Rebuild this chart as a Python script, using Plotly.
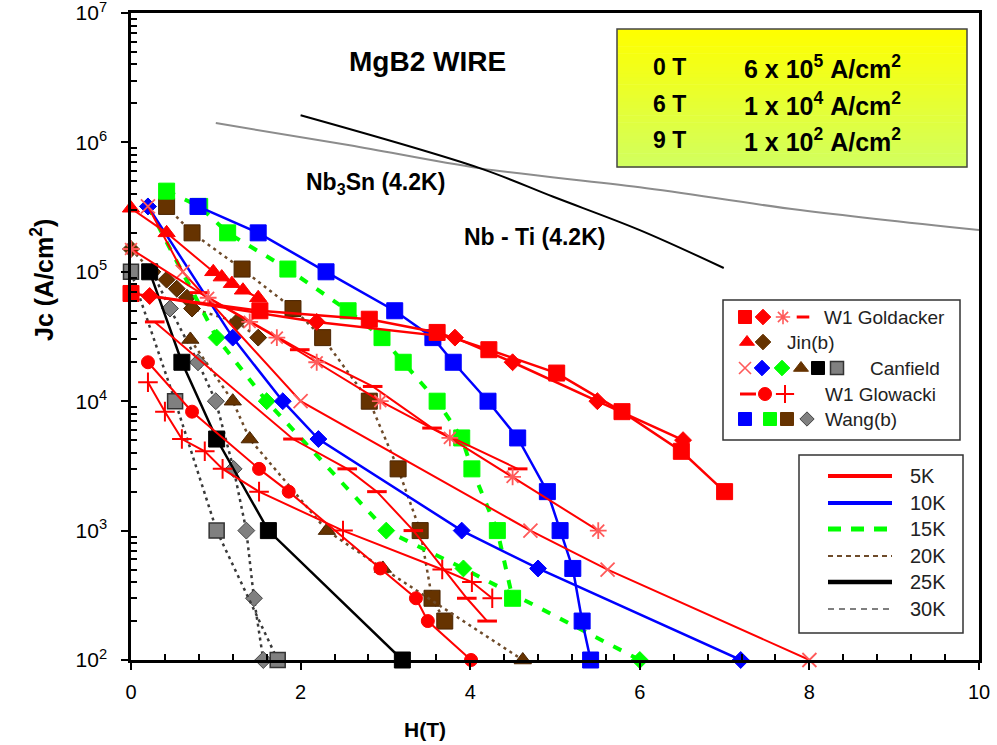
import plotly.graph_objects as go

# ---------------- data: applied field H (T) and Jc (A/cm^2) ----------------
# W1 Goldacker
gold_sq_h = [0.0, 1.52, 2.81, 3.61, 4.22, 5.02, 5.79, 6.49, 7.0]
gold_sq_jc = [6.8e4, 5.0e4, 4.3e4, 3.4e4, 2.5e4, 1.65e4, 8.3e3, 4.1e3, 2.0e3]
gold_di_h = [0.22, 2.19, 3.82, 4.50, 5.50, 6.51]
gold_di_jc = [6.5e4, 4.1e4, 3.1e4, 2.0e4, 1.0e4, 5.0e3]
gold_ast_h = [0.0, 0.91, 1.40, 1.72, 2.19, 2.94, 3.76, 4.50, 5.51]
gold_ast_jc = [1.5e5, 6.3e4, 4.1e4, 3.1e4, 2.0e4, 1.0e4, 5.2e3, 2.6e3, 1.0e3]
gold_dash_h = [0.81, 1.99, 2.85, 3.55, 4.56]
gold_dash_jc = [6.9e4, 2.5e4, 1.3e4, 6.2e3, 3.0e3]

# Jin(b)
jin_tri_h = [0.0, 0.42, 0.97, 1.07, 1.19, 1.32, 1.50]
jin_tri_jc = [3.1e5, 2.0e5, 1.0e5, 9.1e4, 8.1e4, 7.2e4, 6.3e4]
jin_di_h = [0.0, 0.25, 0.42, 0.54, 0.66, 0.72, 1.25, 1.50]
jin_di_jc = [1.5e5, 1.0e5, 8.7e4, 7.4e4, 6.3e4, 5.2e4, 4.1e4, 3.1e4]

# Canfield
canf_x_h = [0.20, 0.61, 2.0, 4.71, 5.62, 8.0]
canf_x_jc = [3.2e5, 1.0e5, 1.0e4, 1.0e3, 5.0e2, 1.0e2]
canf_bd_h = [0.20, 1.20, 1.79, 2.21, 3.90, 4.80, 7.19]
canf_bd_jc = [3.2e5, 3.1e4, 1.0e4, 5.1e3, 1.0e3, 5.1e2, 1.0e2]
canf_gd_h = [0.20, 1.01, 1.60, 3.01, 3.92, 6.0]
canf_gd_jc = [3.2e5, 3.1e4, 1.0e4, 1.0e3, 5.1e2, 1.0e2]
canf_bt_h = [0.70, 1.20, 1.40, 2.31, 2.97, 4.62]
canf_bt_jc = [3.0e4, 1.0e4, 5.1e3, 1.0e3, 5.1e2, 1.0e2]
canf_ks_h = [0.22, 0.60, 1.01, 1.62, 3.20]
canf_ks_jc = [1.0e5, 2.0e4, 5.1e3, 1.0e3, 1.0e2]
canf_gs_h = [0.0, 0.52, 1.01, 1.73]
canf_gs_jc = [1.0e5, 1.0e4, 1.0e3, 1.0e2]

# W1 Glowacki
glow_dash_h = [0.28, 1.91, 2.55, 2.90, 3.33, 3.96, 4.20]
glow_dash_jc = [4.1e4, 5.1e3, 3.0e3, 2.0e3, 1.0e3, 3.0e2, 2.0e2]
glow_circ_h = [0.20, 0.72, 1.51, 1.86, 2.94, 3.36, 3.50, 4.01]
glow_circ_jc = [2.0e4, 8.3e3, 3.0e3, 2.0e3, 5.1e2, 3.0e2, 2.0e2, 1.0e2]
glow_plus_h = [0.20, 0.40, 0.60, 0.87, 1.08, 1.51, 2.50, 3.67, 4.02, 4.26]
glow_plus_jc = [1.4e4, 8.3e3, 5.1e3, 4.1e3, 3.0e3, 2.0e3, 1.0e3, 5.0e2, 4.0e2, 3.0e2]

# Wang(b)
wang_bs_h = [0.79, 1.50, 2.30, 3.11, 3.56, 3.80, 4.21, 4.56, 4.91, 5.06, 5.21, 5.32, 5.42]
wang_bs_jc = [3.2e5, 2.0e5, 1.0e5, 5.0e4, 3.1e4, 2.0e4, 1.0e4, 5.2e3, 2.0e3, 1.0e3, 5.1e2, 2.0e2, 1.0e2]
wang_gs_h = [0.42, 0.81, 1.14, 1.85, 2.56, 2.96, 3.21, 3.61, 3.90, 4.02, 4.32, 4.50]
wang_gs_jc = [4.2e5, 3.2e5, 2.0e5, 1.05e5, 5.0e4, 3.1e4, 2.0e4, 1.0e4, 5.2e3, 3.0e3, 1.0e3, 3.0e2]
wang_br_h = [0.42, 0.72, 1.31, 1.91, 2.26, 2.81, 3.15, 3.41, 3.55, 3.70]
wang_br_jc = [3.2e5, 2.0e5, 1.05e5, 5.2e4, 3.1e4, 1.0e4, 3.0e3, 1.0e3, 3.0e2, 2.0e2]
wang_gd_h = [0.25, 0.46, 0.79, 1.0, 1.21, 1.36, 1.45, 1.56]
wang_gd_jc = [1.0e5, 5.2e4, 2.0e4, 1.0e4, 3.0e3, 1.0e3, 3.0e2, 1.0e2]

# conventional conductors at 4.2 K
nb3sn_h = [1.0, 2.58, 4.12, 6.0, 7.89, 10.0]
nb3sn_jc = [1.41e6, 9.5e5, 6.3e5, 4.5e5, 3.0e5, 2.1e5]
nbti_h = [2.0, 4.12, 4.98, 6.0, 6.99]
nbti_jc = [1.62e6, 6.3e5, 3.8e5, 2.1e5, 1.07e5]

# axis tick labels
x_ticks = [0, 2, 4, 6, 8, 10]
y_ticks = [1e2, 1e3, 1e4, 1e5, 1e6, 1e7]
y_ticktext = ["10<sup>2</sup>", "10<sup>3</sup>", "10<sup>4</sup>",
              "10<sup>5</sup>", "10<sup>6</sup>", "10<sup>7</sup>"]

# ---------------- styles ----------------
RED, PINK, BLUE, GREEN = "#ff0000", "#ff5a5a", "#0000ff", "#00ff00"
BROWN, BLACK, GRAY = "#663300", "#000000", "#808080"
FONT = "Liberation Sans"
NB = "&nbsp;"

W, H = 997, 745
ML, MR, MT, MB = 131, 18, 13, 85
PW, PH = W - ML - MR, H - MT - MB


def px(x):
    return (x - ML) / PW


def py(y):
    return (H - MB - y) / PH


fig = go.Figure()


def add_series(h, jc, lcolor, lwidth, dash, symbol, msize, mcolor, mline=None, mlw=1):
    fig.add_trace(go.Scatter(
        x=h, y=jc, mode="lines+markers", cliponaxis=False,
        line=dict(color=lcolor, width=lwidth, dash=dash),
        marker=dict(symbol=symbol, size=msize, color=mcolor,
                    line=dict(color=mline or mcolor, width=mlw)),
        hoverinfo="x+y"))


# reference conductors
fig.add_trace(go.Scatter(x=nb3sn_h, y=nb3sn_jc, mode="lines", line=dict(color="#8c8c8c", width=2, shape="spline"),
                         hoverinfo="x+y"))
fig.add_trace(go.Scatter(x=nbti_h, y=nbti_jc, mode="lines", line=dict(color=BLACK, width=2, shape="spline"),
                         hoverinfo="x+y"))

DOT = "3px,4px"
GDASH = "9px,11px"
SQ, DI, TR, CI, XS = 16, 13, 15, 13, 14
# 30 K
add_series(wang_gd_h, wang_gd_jc, "#3a3a3a", 2.5, DOT, "diamond", DI, GRAY, "#444444", 1)
add_series(canf_gs_h, canf_gs_jc, "#3a3a3a", 2.5, DOT, "square", SQ - 1, GRAY, "#333333", 1.5)
# 20 K
add_series(wang_br_h, wang_br_jc, "#6e4b2a", 2.5, DOT, "square", SQ, BROWN, "#4a2400", 1)
add_series(jin_di_h, jin_di_jc, "#6e4b2a", 2.5, DOT, "diamond", DI, BROWN, "#4a2400", 1)
add_series(canf_bt_h, canf_bt_jc, "#6e4b2a", 2.5, DOT, "triangle-up", TR, BROWN, "#4a2400", 1)
# 15 K
add_series(wang_gs_h, wang_gs_jc, GREEN, 4, GDASH, "square", SQ, GREEN)
add_series(canf_gd_h, canf_gd_jc, GREEN, 4, GDASH, "diamond", DI, GREEN)
# 25 K
add_series(canf_ks_h, canf_ks_jc, BLACK, 2.5, "solid", "square", SQ, BLACK)
# 10 K
add_series(wang_bs_h, wang_bs_jc, BLUE, 2.5, "solid", "square", SQ, BLUE)
add_series(canf_bd_h, canf_bd_jc, BLUE, 2.5, "solid", "diamond", DI, BLUE)
# 5 K
add_series(canf_x_h, canf_x_jc, RED, 2, "solid", "x-thin-open", XS, PINK, PINK, 1.8)
add_series(glow_plus_h, glow_plus_jc, RED, 2, "solid", "cross-thin-open", XS, RED, RED, 2)
add_series(glow_circ_h, glow_circ_jc, RED, 2, "solid", "circle", CI, RED)
add_series(glow_dash_h, glow_dash_jc, RED, 2, "solid", "line-ew-open", XS, RED, RED, 3)
add_series(gold_dash_h, gold_dash_jc, RED, 2, "solid", "line-ew-open", XS, RED, RED, 3)
add_series(gold_ast_h, gold_ast_jc, RED, 2, "solid", "asterisk-open", XS, PINK, PINK, 1.8)
add_series(jin_tri_h, jin_tri_jc, RED, 2, "solid", "triangle-up", TR, RED)
add_series(gold_di_h, gold_di_jc, RED, 2.5, "solid", "diamond", DI, RED)
add_series(gold_sq_h, gold_sq_jc, RED, 2.5, "solid", "square", SQ, RED)

# ---------------- legend glyphs on a pixel-space overlay ----------------
def glyph(x, y, symbol, size, color, lcolor=None, lw=1):
    fig.add_trace(go.Scatter(
        x=[x], y=[y], xaxis="x2", yaxis="y2", mode="markers", cliponaxis=False,
        marker=dict(symbol=symbol, size=size, color=color, line=dict(color=lcolor or color, width=lw)),
        hoverinfo="skip"))


shapes = []
annotations = []

# yellow summary box with vertical gradient
bx0, by0, bx1, by1 = 617, 29, 967, 167
n_strips = 40
for i in range(n_strips):
    t = i / (n_strips - 1)
    r = int(255 - 45 * t)
    b = int(0 + 95 * t)
    ya = by0 + (by1 - by0) * i / n_strips
    yb = by0 + (by1 - by0) * (i + 1) / n_strips
    shapes.append(dict(type="rect", xref="paper", yref="paper", layer="below",
                       x0=px(bx0), x1=px(bx1), y0=py(ya), y1=py(yb + 0.6),
                       line=dict(width=0), fillcolor=f"rgb({r},255,{b})"))
shapes.append(dict(type="rect", xref="paper", yref="paper", layer="above",
                   x0=px(bx0), x1=px(bx1), y0=py(by0), y1=py(by1),
                   line=dict(color="#444444", width=1.5), fillcolor="rgba(0,0,0,0)"))

box_rows = [("0", "6", "5", 67), ("6", "1", "4", 104), ("9", "1", "2", 140)]
for field, mant, expo, yy in box_rows:
    annotations.append(dict(xref="paper", yref="paper", x=px(669), y=py(yy),
                            text=f"<b>{field}{NB}T</b>",
                            showarrow=False, xanchor="center", yanchor="middle",
                            font=dict(family=FONT, size=23, color="black")))
    val = f"<b>{mant}{NB}x{NB}10<sup>{expo}</sup>{NB}A/cm<sup>2</sup></b>"
    annotations.append(dict(xref="paper", yref="paper", x=px(742), y=py(yy), text=val,
                            showarrow=False, xanchor="left", yanchor="middle",
                            font=dict(family=FONT, size=25, color="black")))

# marker legend box
shapes.append(dict(type="rect", xref="paper", yref="paper", layer="below",
                   x0=px(723), x1=px(960), y0=py(300), y1=py(440),
                   line=dict(color="#333333", width=1.5), fillcolor="white"))
glyph(745, 317, "square", 13, RED)
glyph(763, 317, "diamond", 12, RED)
glyph(783, 317, "asterisk-open", 12, PINK, PINK, 1.6)
glyph(803, 317, "line-ew-open", 9, RED, RED, 3)
glyph(747, 342, "triangle-up", 13, RED)
glyph(763, 342, "diamond", 12, BROWN)
glyph(745, 368, "x-thin-open", 12, PINK, PINK, 1.6)
glyph(762, 368, "diamond", 12, BLUE)
glyph(782, 368, "diamond", 12, GREEN)
glyph(801, 368, "triangle-up", 13, BROWN)
glyph(818, 368, "square", 13, BLACK)
glyph(837, 368, "square", 13, GRAY, "#333333", 1.5)
shapes.append(dict(type="line", xref="paper", yref="paper", layer="above",
                   x0=px(740), x1=px(756), y0=py(394), y1=py(394), line=dict(color=RED, width=3)))
glyph(765, 394, "circle", 13, RED)
glyph(785, 394, "cross-thin-open", 13, RED, RED, 2)
glyph(745, 419, "square", 13, BLUE)
glyph(770, 419, "square", 13, GREEN)
glyph(787, 419, "square", 13, BROWN)
glyph(807, 419, "diamond", 11, GRAY, "#444444", 1)

leg_text = [("W1 Goldacker", 822, 317), ("Jin(b)", 785, 342), ("Canfield", 868, 368),
            ("W1 Glowacki", 823, 394), ("Wang(b)", 823, 419)]
for txt, xx, yy in leg_text:
    annotations.append(dict(xref="paper", yref="paper", x=px(xx), y=py(yy), text=txt, showarrow=False,
                            xanchor="left", yanchor="middle",
                            font=dict(family=FONT, size=19, color="#222222")))

# temperature legend box
shapes.append(dict(type="rect", xref="paper", yref="paper", layer="below",
                   x0=px(799), x1=px(963), y0=py(455), y1=py(633),
                   line=dict(color="#333333", width=1.5), fillcolor="white"))
temp_rows = [("5K", 476, RED, 4, "solid"), ("10K", 503, BLUE, 4, "solid"),
             ("15K", 529, GREEN, 5, "13px,10px"), ("20K", 556, "#6e4b2a", 2, "5px,4px"),
             ("25K", 582, BLACK, 4.5, "solid"), ("30K", 609, "#555555", 1.5, "6px,5px")]
for lab, yy, col, lw, dsh in temp_rows:
    shapes.append(dict(type="line", xref="paper", yref="paper", layer="above",
                       x0=px(828), x1=px(892), y0=py(yy), y1=py(yy),
                       line=dict(color=col, width=lw, dash=dsh)))
    annotations.append(dict(xref="paper", yref="paper", x=px(908), y=py(yy), text=lab, showarrow=False,
                            xanchor="left", yanchor="middle",
                            font=dict(family=FONT, size=20, color="#222222")))

# chart labels
annotations += [
    dict(xref="paper", yref="paper", x=px(427), y=py(62), text="<b>MgB2 WIRE</b>", showarrow=False,
         xanchor="center", yanchor="middle", font=dict(family=FONT, size=28, color="black")),
    dict(xref="paper", yref="paper", x=px(375), y=py(183), text="<b>Nb<sub>3</sub>Sn (4.2K)</b>",
         showarrow=False, xanchor="center", yanchor="middle", font=dict(family=FONT, size=23, color="black")),
    dict(xref="paper", yref="paper", x=px(534), y=py(237), text="<b>Nb - Ti (4.2K)</b>",
         showarrow=False, xanchor="center", yanchor="middle", font=dict(family=FONT, size=23, color="black")),
    dict(xref="paper", yref="paper", x=px(425), y=py(729), text="<b>H(T)</b>", showarrow=False,
         xanchor="center", yanchor="middle", font=dict(family=FONT, size=21, color="black")),
    dict(xref="paper", yref="paper", x=px(42), y=py(280), text="<b>Jc (A/cm<sup>2</sup>)</b>",
         showarrow=False, textangle=-90, xanchor="center", yanchor="middle",
         font=dict(family=FONT, size=25, color="black")),
]

x_minor = [round(0.4 * k, 1) for k in range(26) if round(0.4 * k, 1) not in x_ticks]
y_minor = [m * 10 ** e for e in range(2, 7) for m in range(2, 10)]

fig.update_layout(
    width=W, height=H, margin=dict(l=ML, r=MR, t=MT, b=MB),
    paper_bgcolor="white", plot_bgcolor="white", showlegend=False,
    font=dict(family=FONT, color="black"),
    xaxis=dict(range=[0, 10], tickmode="array", tickvals=x_ticks, ticktext=[str(v) for v in x_ticks],
               showline=True, linecolor="black", linewidth=2.5, mirror=True, automargin=False,
               ticks="outside", ticklen=7, tickwidth=2, tickcolor="black",
               minor=dict(tickmode="array", tickvals=x_minor, ticks="inside", ticklen=6, tickwidth=1.5,
                          tickcolor="black"),
               showgrid=False, zeroline=False, ticklabelstandoff=5, ticklabeloverflow="allow",
               tickfont=dict(family=FONT, size=20, color="black")),
    yaxis=dict(type="log", range=[2, 7], tickmode="array", tickvals=y_ticks, ticktext=y_ticktext,
               showline=True, linecolor="black", linewidth=2.5, mirror=True, automargin=False,
               ticks="outside", ticklen=7, tickwidth=2, tickcolor="black",
               minor=dict(tickmode="array", tickvals=y_minor, ticks="inside", ticklen=6, tickwidth=1.5,
                          tickcolor="black"),
               showgrid=False, zeroline=False, ticklabelstandoff=10, ticklabeloverflow="allow",
               tickfont=dict(family=FONT, size=21, color="black")),
    xaxis2=dict(overlaying="x", range=[ML, W - MR], visible=False, anchor="y2", automargin=False),
    yaxis2=dict(overlaying="y", range=[H - MB, MT], visible=False, anchor="x2", automargin=False),
    shapes=shapes, annotations=annotations,
)

fig.write_html("out.html")
